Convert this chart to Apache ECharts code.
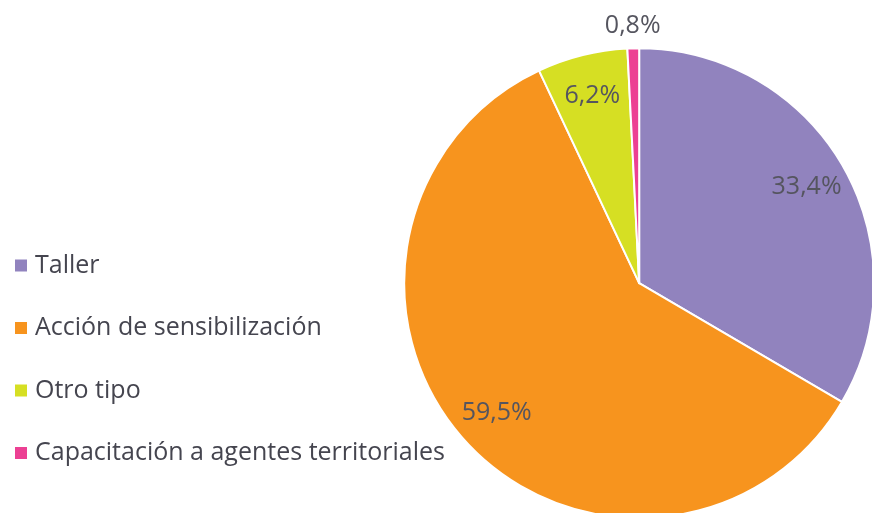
<!DOCTYPE html>
<html>
<head>
<meta charset="utf-8">
<script src="https://cdn.jsdelivr.net/npm/echarts@6/dist/echarts.min.js"></script>
<style>
  html, body { margin: 0; padding: 0; background: #fff; }
  #chart { width: 872px; height: 513px; }
</style>
</head>
<body>
<div id="chart"></div>
<script>
// categorías y valores (%)
const categories = ['Taller', 'Acción de sensibilización', 'Otro tipo', 'Capacitación a agentes territoriales'];
const values = [33.4, 59.5, 6.2, 0.8];
const colors = ['#9183BE', '#F7941E', '#D6DF23', '#EC4093'];

const chart = echarts.init(document.getElementById('chart'));

const pieData = categories.map((name, i) => ({ name, value: values[i] }));
const center = ['73.3%', '55.2%'];
const fmt = p => p.value.toFixed(1).replace('.', ',') + '%';
const labelText = { color: '#55555f', fontSize: 25, fontFamily: 'Open Sans' };

const option = {
    backgroundColor: '#fff',
    color: colors,
    animation: false,
    legend: {
        orient: 'vertical',
        left: 8,
        top: 248,
        padding: 5,
        icon: 'rect',
        itemWidth: 14,
        itemHeight: 14,
        itemGap: 37.5,
        data: categories,
        textStyle: { color: '#45454f', fontSize: 25, fontFamily: 'Open Sans', padding: [0, 0, 0, 2] }
    },
    series: [
        {
            // tarta principal
            type: 'pie',
            center: center,
            radius: '91.6%',
            startAngle: 90,
            clockwise: true,
            data: pieData,
            itemStyle: { borderColor: '#fff', borderWidth: 2 },
            label: { show: false },
            labelLine: { show: false },
            emphasis: { disabled: true }
        },
        {
            // etiquetas interiores (anillo transparente)
            type: 'pie',
            center: center,
            radius: ['56.5%', '91.6%'],
            startAngle: 90,
            silent: true,
            data: pieData.map((d, i) => ({
                ...d,
                label: { show: i < 3 }
            })),
            itemStyle: { color: 'transparent' },
            label: { position: 'inside', formatter: fmt, ...labelText },
            labelLine: { show: false },
            emphasis: { disabled: true }
        },
        {
            // etiqueta exterior para el sector pequeño
            type: 'pie',
            center: center,
            radius: ['92%', '106%'],
            startAngle: 90,
            silent: true,
            data: pieData.map((d, i) => ({
                ...d,
                label: { show: i === 3 }
            })),
            itemStyle: { color: 'transparent' },
            label: { position: 'inside', formatter: fmt, ...labelText },
            labelLine: { show: false },
            emphasis: { disabled: true }
        }
    ]
};

chart.setOption(option);
</script>
</body>
</html>
